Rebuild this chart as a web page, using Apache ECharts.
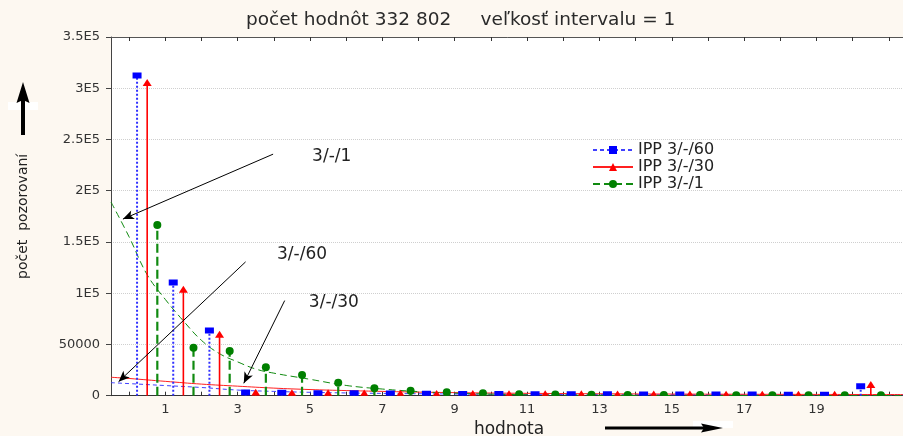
<!DOCTYPE html>
<html><head><meta charset="utf-8">
<script src="https://cdn.jsdelivr.net/npm/echarts@6/dist/echarts.min.js"></script>
<style>html,body{margin:0;padding:0;background:#fdf8f1}#c{width:903px;height:436px}</style>
</head><body><div id="c"></div>
<script>
// ---- data ----
const hodnota = [0,1,2,3,4,5,6,7,8,9,10,11,12,13,14,15,16,17,18,19,20];
const ipp60 = [312500,110500,63500,3200,2800,2500,2300,2100,1900,1700,1600,1500,1400,1300,1200,1200,1100,1100,1000,1000,9200];
const ipp30 = [305000,103500,59500,2800,2500,2300,2100,1900,1700,1600,1500,1400,1300,1200,1100,1100,1000,1000,900,900,10500];
const ipp1  = [166500,46900,43500,27700,20200,12700,7200,4900,3300,2300,1500,1200,1000,800,700,600,500,500,400,400,400];
const fit60 = [[-0.5,12700],[0,11800],[1,9900],[2,8000],[3,5500],[4,4200],[5,3300],[6,2700],[8,1900],[11,1300],[15,1000],[21.5,800]];
const fit30 = [[-0.5,18000],[0,16800],[1,14000],[2,11300],[3,9300],[4,7400],[5,6000],[6,5000],[7,4200],[8,3500],[10,2600],[13,1900],[17,1400],[21.5,1100]];
const fit1  = [[-0.5,189000],[0,155000],[0.5,118000],[1,94000],[1.5,73000],[2,54000],[2.5,41000],[3,33000],[3.5,26000],[4,22000],[5,16000],[6,10000],[7,6500],[8,4000],[9,2500],[10,1500],[12,600],[15,200],[21.5,0]];
const seriesNames = ['IPP 3/-/60','IPP 3/-/30','IPP 3/-/1'];
const yTickLabels = {0:'0',50000:'50000',100000:'1E5',150000:'1.5E5',200000:'2E5',250000:'2.5E5',300000:'3E5',350000:'3.5E5'};
const xTickLabels = [1,3,5,7,9,11,13,15,17,19];
const xTicks = [0,1,2,3,4,5,6,7,8,9,10,11,12,13,14,15,16,17,18,19,20,21];
const annotations = [
  {text:'3/-/1',  at:[5.6,233000], from:[3.98,235700], to:[-0.17,172300]},
  {text:'3/-/60', at:[4.78,137500], from:[3.22,130600], to:[-0.29,13700]},
  {text:'3/-/30', at:[5.66,90500], from:[4.30,92800], to:[3.17,12100]}
];
const titleText = 'počet hodnôt 332 802     veľkosť intervalu = 1';

// ---- chart ----
const FONT = 'DejaVu Sans';
const chart = echarts.init(document.getElementById('c'));
function stem(name, values, offset, color, dash, width, marker){
  return {
    type:'custom', name, clip:true, z:4, silent:true,
    data: hodnota.map((k,i)=>[k, values[i]]),
    encode:{x:0,y:1},
    renderItem(params, api){
      const x = api.value(0)+offset, v = api.value(1);
      const p0 = api.coord([x,0]), p1 = api.coord([x,v]);
      return {type:'group', children:[
        {type:'line', shape:{x1:p0[0],y1:p0[1],x2:p1[0],y2:p1[1]}, style:{stroke:color,lineWidth:width,lineDash:dash}},
        marker(p1)
      ]};
    }
  };
}
const sq = p=>({type:'rect', shape:{x:p[0]-4.5,y:p[1]-3,width:9,height:6}, style:{fill:'#0000ff'}});
const tri = p=>({type:'polygon', shape:{points:[[p[0],p[1]-4],[p[0]+4.5,p[1]+3],[p[0]-4.5,p[1]+3]]}, style:{fill:'#ff0000'}});
const circ = p=>({type:'circle', shape:{cx:p[0],cy:p[1],r:4}, style:{fill:'#008000'}});

chart.setOption({
  animation:false,
  backgroundColor:'#fdf8f1',
  textStyle:{fontFamily:FONT},
  title:{text:titleText, left:246, top:11, padding:0,
    textStyle:{fontFamily:FONT, fontSize:18.5, fontWeight:'normal', color:'#2a2a2a'}},
  legend:{data:seriesNames, orient:'vertical', left:592, top:142, padding:0,
    itemWidth:40, itemHeight:10, itemGap:1,
    textStyle:{fontFamily:FONT, fontSize:16, color:'#222'}},
  grid:{left:111, top:37, right:-4, bottom:40.3, show:true, backgroundColor:'#ffffff', borderWidth:0,
    containLabel:false, outerBoundsMode:'none'},
  xAxis:[{
    type:'value', min:-0.5, max:21.5, position:'bottom',
    name:'hodnota', nameLocation:'middle', nameGap:24,
    nameTextStyle:{fontFamily:FONT, fontSize:17, color:'#222'},
    axisLine:{show:true, onZero:false, lineStyle:{color:'#333', width:1}},
    axisTick:{show:true, inside:true, length:4, customValues:xTicks, lineStyle:{color:'#333'}},
    axisLabel:{show:true, customValues:xTickLabels, margin:7, fontSize:13, color:'#333', fontFamily:FONT},
    splitLine:{show:false}
  },{
    type:'value', min:-0.5, max:21.5, position:'top',
    axisLine:{show:true, onZero:false, lineStyle:{color:'#555', width:1}},
    axisTick:{show:true, inside:true, length:4, customValues:xTicks, lineStyle:{color:'#333'}},
    axisLabel:{show:false}, splitLine:{show:false}
  }],
  yAxis:{
    type:'value', min:0, max:350000, interval:50000,
    name:'počet  pozorovaní', nameLocation:'middle', nameGap:81,
    nameTextStyle:{fontFamily:FONT, fontSize:14, color:'#222'},
    axisLine:{show:true, onZero:false, lineStyle:{color:'#444', width:1}},
    axisTick:{show:true, inside:false, length:5, lineStyle:{color:'#444'}},
    axisLabel:{margin:11, fontSize:13, color:'#333', fontFamily:FONT, formatter:v=>yTickLabels[v]},
    splitLine:{show:true, lineStyle:{color:'#cfcfcf', type:'dotted', width:1}}
  },
  series:[
    {type:'line', name:seriesNames[0], data:fit60, smooth:0.4, showSymbol:false, symbol:'rect', z:2, silent:true,
      lineStyle:{color:'#4040ff', width:1, type:[4,3]}, itemStyle:{color:'#0000ff'}},
    {type:'line', name:seriesNames[1], data:fit30, smooth:0.4, showSymbol:false, symbol:'triangle', z:2, silent:true,
      lineStyle:{color:'#ff2020', width:1, type:'solid'}, itemStyle:{color:'#ff0000'}},
    {type:'line', name:seriesNames[2], data:fit1, smooth:0.4, showSymbol:false, symbol:'circle', z:2, silent:true,
      lineStyle:{color:'#108a10', width:1, type:[7,4]}, itemStyle:{color:'#008000'},
      markLine:{silent:true, symbol:['none','arrow'], symbolSize:[7,11], animation:false,
        lineStyle:{color:'#000', width:1, type:'solid'}, label:{show:false},
        data:annotations.map(a=>[{coord:a.from},{coord:a.to}])},
      markPoint:{silent:true, symbol:'rect', symbolSize:1, itemStyle:{color:'rgba(0,0,0,0)'}, animation:false,
        label:{show:true, position:'inside', color:'#222', fontSize:17, fontFamily:FONT, formatter:p=>p.name},
        data:annotations.map(a=>({name:a.text, coord:a.at}))}
    },
    stem('s60', ipp60, 0.22, '#3030ff', [2,2], 2, sq),
    stem('s30', ipp30, 0.5, '#ff0000', null, 1.6, tri),
    stem('s1', ipp1, 0.78, '#108a10', [9,4], 2.2, circ)
  ],
  graphic:[
    {type:'rect', shape:{x:8,y:102,width:30,height:8}, style:{fill:'#ffffff'}, silent:true},
    {type:'rect', shape:{x:693,y:421,width:40,height:7}, style:{fill:'#ffffff'}, silent:true},
    {type:'rect', shape:{x:21,y:100,width:4,height:35}, style:{fill:'#000'}, silent:true},
    {type:'polygon', shape:{points:[[23,82],[29.5,103],[23,100],[16.5,103]]}, style:{fill:'#000'}, silent:true},
    {type:'rect', shape:{x:605,y:426.5,width:100,height:3}, style:{fill:'#000'}, silent:true},
    {type:'polygon', shape:{points:[[723,428],[701,423.5],[704,428],[701,432.5]]}, style:{fill:'#000'}, silent:true}
  ]
});
</script></body></html>
